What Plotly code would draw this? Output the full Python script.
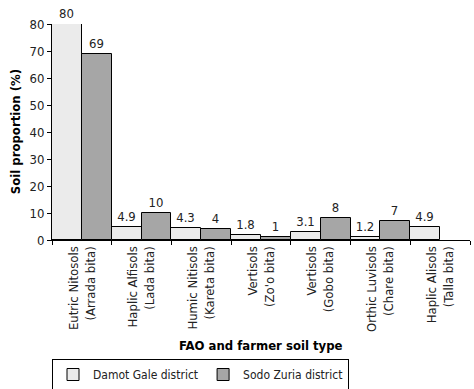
import plotly.graph_objects as go

categories = [
    "Eutric Nitosols<br>(Arrada bita)",
    "Haplic Alfisols<br>(Lada bita)",
    "Humic Nitisols<br>(Kareta bita)",
    "Vertisols<br>(Zo'o bita)",
    "Vertisols<br>(Gobo bita)",
    "Orthic Luvisols<br>(Chare bita)",
    "Haplic Alisols<br>(Talla bita)",
]
damot = [80, 4.9, 4.3, 1.8, 3.1, 1.2, 4.9]
sodo = [69, 10, 4, 1, 8, 7, None]
damot_labels = ["80", "4.9", "4.3", "1.8", "3.1", "1.2", "4.9"]
sodo_labels = ["69", "10", "4", "1", "8", "7", ""]

FONT = "Liberation Sans Narrow, Arial Narrow, DejaVu Sans Condensed, sans-serif"
FS = 13

W, H = 474, 389

fig = go.Figure()
fig.add_trace(go.Bar(
    x=categories, y=damot, name="Damot Gale district",
    marker=dict(color="#EBEBEB", line=dict(color="black", width=1)),
    text=damot_labels, textposition="outside", cliponaxis=False,
    textfont=dict(size=FS, color="#222", family=FONT),
))
fig.add_trace(go.Bar(
    x=categories, y=sodo, name="Sodo Zuria district",
    marker=dict(color="#A6A6A6", line=dict(color="black", width=1)),
    text=sodo_labels, textposition="outside", cliponaxis=False,
    textfont=dict(size=FS, color="#222", family=FONT),
))

fig.update_layout(
    width=W, height=H,
    margin=dict(l=52, r=4, t=24, b=149, autoexpand=False),
    paper_bgcolor="white", plot_bgcolor="white",
    barmode="group", bargap=0, bargroupgap=0,
    font=dict(family=FONT, size=FS, color="#222"),
    showlegend=True,
    legend=dict(
        orientation="h", x=52 / W, xanchor="left", xref="container",
        y=1 - 359 / H, yanchor="top", yref="container",
        bordercolor="black", borderwidth=1,
        font=dict(size=12, family=FONT, color="#222"),
        tracegroupgap=0, itemwidth=30,
    ),
    annotations=[
        dict(text="<b>FAO and farmer soil type</b>", xref="paper", yref="paper",
             x=0.5, y=-0.49, xanchor="center", yanchor="middle", showarrow=False,
             font=dict(size=FS, family=FONT, color="black")),
        dict(text="<b>Soil proportion (%)</b>", xref="paper", yref="paper",
             x=-0.088, y=0.5, xanchor="center", yanchor="middle", showarrow=False,
             textangle=-90, font=dict(size=FS, family=FONT, color="black")),
    ],
)
fig.update_xaxes(
    showline=True, linecolor="black", linewidth=1, automargin=False,
    ticks="outside", tickson="boundaries", ticklen=4, tickcolor="black",
    tickangle=-90, tickfont=dict(size=FS, family=FONT, color="#222"),
    showgrid=False,
)
fig.update_yaxes(
    range=[0, 80], dtick=10, showline=True, linecolor="black", linewidth=1,
    automargin=False,
    ticks="outside", ticklen=4, tickcolor="black", showgrid=False, zeroline=False,
    tickfont=dict(size=FS, family=FONT, color="#222"),
)
fig.write_html(
    "out.html",
    config={"displayModeBar": False},
    post_script="document.body.style.margin='0';document.body.style.overflow='hidden';",
)
